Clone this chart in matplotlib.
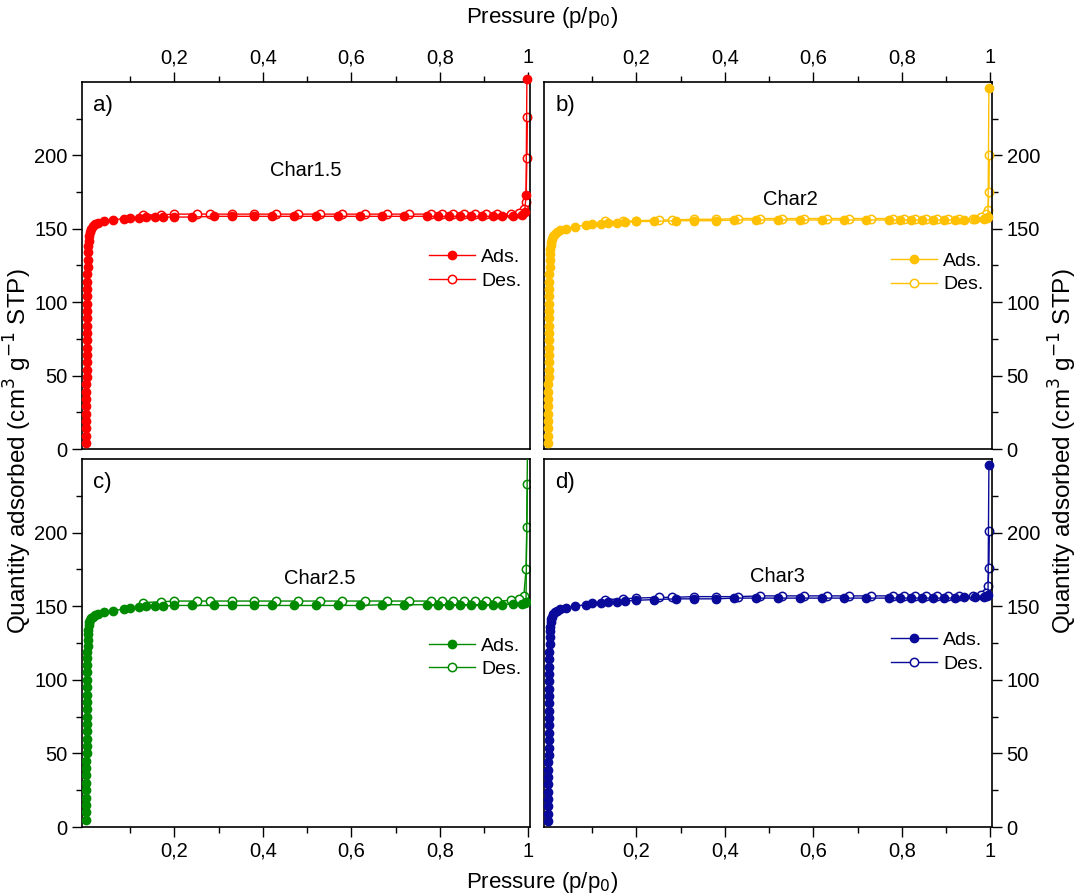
import matplotlib
matplotlib.use("Agg")
import matplotlib.pyplot as plt
from matplotlib.ticker import FixedLocator, FuncFormatter

plt.rcParams['font.family'] = ['Liberation Sans', 'DejaVu Sans']

# --- Datos ---
p_low = [0.0003, 0.0004, 0.0005, 0.0006, 0.0007, 0.0008, 0.0009, 0.0010, 0.0011, 0.0012,
         0.0013, 0.0014, 0.0015, 0.0016, 0.0017, 0.0018, 0.0019, 0.0020, 0.0022, 0.0024,
         0.0026, 0.0028, 0.0030, 0.0033, 0.0036, 0.0040, 0.0045, 0.0050, 0.0060, 0.0070]
p_mid = [0.009, 0.012, 0.016, 0.021, 0.028, 0.04, 0.06, 0.085, 0.10, 0.12, 0.135, 0.155,
         0.175, 0.20, 0.24, 0.29, 0.33, 0.38, 0.42, 0.47, 0.52, 0.57, 0.62, 0.67, 0.72,
         0.77, 0.795, 0.82, 0.845, 0.87, 0.895, 0.92, 0.94, 0.965, 0.985]
p_des = [0.998, 0.997, 0.995, 0.99, 0.98, 0.96, 0.93, 0.905, 0.88, 0.855, 0.83, 0.805,
         0.78, 0.73, 0.68, 0.63, 0.58, 0.53, 0.48, 0.43, 0.38, 0.33, 0.28, 0.25, 0.20,
         0.17, 0.13]

# Char1.5
ads_tail_p_a = [0.992, 0.995, 0.997]
ads_a = [4, 9, 14, 19, 24, 29, 34, 39, 44, 49, 54, 59, 64, 69, 74, 79, 84, 89, 94, 99,
         104, 109, 114, 119, 124, 129, 134, 138, 142, 145,
         148, 150, 152, 153, 154, 155, 156, 157, 157.5, 157.5, 158, 158, 158, 158, 158,
         158.5, 158.5, 158.5, 158.5, 158.5, 158.5, 158.5, 158.5, 158.5, 158.5, 158.5,
         158.5, 158.5, 158.5, 158.5, 158.5, 158.5, 158.5, 159, 159.5,
         161.5, 173, 252]
des_a = [226, 198, 168, 163.5, 161, 160, 160, 160, 160, 160, 160, 160, 160, 160, 160,
         160, 160, 160, 160, 160, 160, 160, 160, 160, 160, 159.5, 159.5]

# Char2
ads_tail_p_b = [0.992, 0.995, 0.997]
ads_b = [4, 9, 14, 19, 24, 29, 34, 39, 44, 49, 54, 59, 64, 69, 74, 79, 84, 89, 94, 99,
         104, 109, 114, 119, 124, 129, 133, 136, 139, 141,
         143, 145, 146.5, 148, 149, 150, 151.5, 152.5, 153, 153.5, 154, 154, 154.5, 155,
         155, 155.5, 155.5, 155.5, 156, 156, 156, 156, 156, 156, 156, 156, 156, 156, 156,
         156, 156, 156, 156, 156.5, 157,
         157.5, 158, 246]
des_b = [200, 175, 163, 160, 158, 157, 157, 157, 157, 157, 157, 157, 157, 157, 157,
         157, 157, 157, 157, 157, 156.5, 156.5, 156, 156, 155.5, 155, 155]

# Char2.5
ads_tail_p_c = [0.992, 0.995, 0.999]
ads_c = [5, 10, 15, 20, 25, 30, 35, 40, 45, 50, 55, 60, 65, 70, 75, 80, 85, 90, 95, 100,
         105, 110, 115, 119, 123, 127, 131, 134, 137, 139,
         140.5, 142, 143, 144, 145, 146, 147, 148, 149, 149.5, 150, 150, 150, 150.5,
         150.5, 150.5, 150.5, 150.5, 150.5, 150.5, 150.5, 150.5, 150.5, 151, 151, 151,
         151, 151, 151, 151, 151, 151, 151, 151.5, 151.5,
         152, 153, 280]
des_c = [233, 204, 175, 157, 155, 154, 153.5, 153.5, 153.5, 153.5, 153.5, 153.5, 153.5,
         153.5, 153.5, 153.5, 153.5, 153.5, 153.5, 153.5, 153.5, 153.5, 153.5, 153.5,
         153.5, 153, 152.5]

# Char3
ads_tail_p_d = [0.992, 0.995, 0.997]
ads_d = [4, 9, 14, 19, 24, 29, 34, 39, 44, 49, 54, 59, 64, 69, 74, 79, 84, 89, 94, 99,
         104, 109, 114, 119, 124, 129, 133, 136, 139, 141,
         143, 144.5, 146, 147, 148, 149, 150, 151, 152, 152.5, 153, 153, 153.5, 154,
         154.5, 155, 155, 155, 155.5, 155.5, 155.5, 155.5, 155.5, 155.5, 155.5, 155.5,
         155.5, 155.5, 155.5, 155.5, 155.5, 155.5, 156, 156, 156.5,
         157, 157.5, 246]
des_d = [201, 176, 164, 159, 157.5, 157, 157, 157, 157, 157, 157, 157, 157, 157, 157,
         157, 157, 157, 157, 156.5, 156.5, 156.5, 156, 156, 155.5, 155, 154.5]

panels = [
    ("a)", "Char1.5", "#ff0000", ads_tail_p_a, ads_a, des_a),
    ("b)", "Char2", "#ffc000", ads_tail_p_b, ads_b, des_b),
    ("c)", "Char2.5", "#008a00", ads_tail_p_c, ads_c, des_c),
    ("d)", "Char3", "#0a0a9a", ads_tail_p_d, ads_d, des_d),
]
# posiciones de los textos (coords de ejes)
name_pos = [(0.50, 0.76), (0.55, 0.68), (0.53, 0.675), (0.52, 0.68)]
leg_pos = [(1.0, 0.49), (1.0, 0.48), (1.0, 0.46), (1.0, 0.475)]

W, H = 1078, 896
rects = [
    (82 / W, 1 - 449 / H, 448 / W, 367 / H),
    (544 / W, 1 - 449 / H, 448 / W, 367 / H),
    (82 / W, 1 - 827 / H, 448 / W, 368 / H),
    (544 / W, 1 - 827 / H, 448 / W, 368 / H),
]

fig = plt.figure(figsize=(W / 100, H / 100), dpi=100)

comma = FuncFormatter(lambda x, pos: f"{x:g}".replace(".", ","))

for i, (tag, name, col, tail, ads, des) in enumerate(panels):
    ax = fig.add_axes(rects[i])
    ads_p = p_low + p_mid + tail
    clip = (i == 2)
    ax.plot(p_des, des, "-o", color=col, lw=1, ms=6, mfc="white", mec=col,
            mew=1.1, label="Des.", clip_on=clip, zorder=2)
    ax.plot(ads_p, ads, "-o", color=col, lw=1, ms=6, mfc=col, mec=col,
            label="Ads.", clip_on=clip, zorder=3)

    ax.set_xlim(-0.009, 1.004)
    ax.set_ylim(0, 250)

    ax.xaxis.set_major_locator(FixedLocator([0.2, 0.4, 0.6, 0.8, 1.0]))
    ax.xaxis.set_minor_locator(FixedLocator([0.1, 0.3, 0.5, 0.7, 0.9]))
    ax.yaxis.set_major_locator(FixedLocator([0, 50, 100, 150, 200]))
    ax.yaxis.set_minor_locator(FixedLocator([25, 75, 125, 175, 225]))
    ax.xaxis.set_major_formatter(comma)
    ax.yaxis.set_major_formatter(comma)

    top = i < 2
    left = i % 2 == 0
    ax.tick_params(which="both", direction="out", width=1, labelsize=14.5,
                   top=top, labeltop=top, bottom=not top, labelbottom=not top,
                   left=left, labelleft=left, right=not left, labelright=not left)
    ax.tick_params(which="major", length=7)
    ax.tick_params(which="minor", length=4)
    for s in ax.spines.values():
        s.set_linewidth(1.2)

    ax.text(0.025, 0.965, tag, transform=ax.transAxes, fontsize=16,
            ha="left", va="top")
    ax.text(name_pos[i][0], name_pos[i][1], name, transform=ax.transAxes,
            fontsize=14.5, ha="center", va="center")

    h, l = ax.get_legend_handles_labels()
    ax.legend(h[::-1], l[::-1], loc="center right", bbox_to_anchor=leg_pos[i],
              frameon=False, fontsize=14, handlelength=2.4, handletextpad=0.3,
              labelspacing=0.3, borderaxespad=0.05)

ylab = r"Quantity adsorbed (cm$^{3}$ g$^{-1}$ STP)"
fig.text(0.017, 1 - 451 / H, ylab, rotation=90, fontsize=17.5, ha="center", va="center")
fig.text(0.986, 1 - 451 / H, ylab, rotation=90, fontsize=17.5, ha="center", va="center")
xlab = r"Pressure (p/p$_{0}$)"
fig.text(542 / W, 1 - 18 / H, xlab, fontsize=16, ha="center", va="center")
fig.text(542 / W, 1 - 882 / H, xlab, fontsize=16, ha="center", va="center")

fig.savefig("out.png", dpi=100)
